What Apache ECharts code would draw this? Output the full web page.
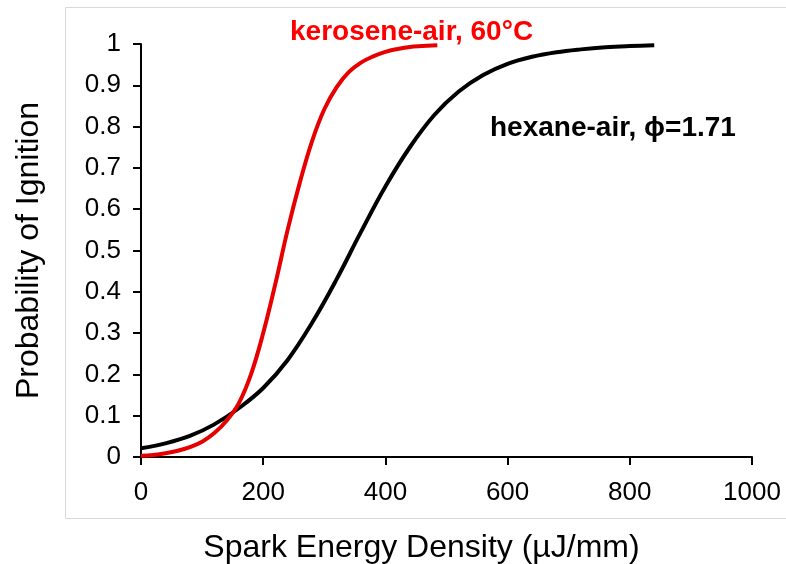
<!DOCTYPE html>
<html>
<head>
<meta charset="utf-8">
<script src="https://cdn.jsdelivr.net/npm/echarts@6/dist/echarts.min.js"></script>
<style>html,body{margin:0;padding:0;background:#fff}#c{width:786px;height:564px}</style>
</head>
<body>
<div id="c"></div>
<script>
var xTicks = [0, 200, 400, 600, 800, 1000];
var yTicks = [0, 0.1, 0.2, 0.3, 0.4, 0.5, 0.6, 0.7, 0.8, 0.9, 1];

var keroseneX = [0, 20, 40, 60, 80, 100, 120, 140, 160, 180, 200, 220, 240, 260, 280, 300, 320, 340, 360, 380, 400, 420, 440, 460, 485];
var keroseneP = [0.003, 0.005, 0.009, 0.015, 0.024, 0.037, 0.058, 0.088, 0.13, 0.2, 0.3, 0.42, 0.55, 0.665, 0.765, 0.842, 0.895, 0.932, 0.955, 0.97, 0.981, 0.988, 0.993, 0.995, 0.997];

var hexaneX = [0, 40, 80, 120, 160, 200, 240, 280, 320, 360, 400, 440, 480, 520, 560, 600, 640, 680, 720, 760, 800, 840];
var hexaneP = [0.021, 0.033, 0.051, 0.079, 0.118, 0.167, 0.235, 0.325, 0.43, 0.545, 0.655, 0.75, 0.828, 0.885, 0.925, 0.952, 0.969, 0.98, 0.987, 0.992, 0.995, 0.997];

var keroseneLabel = 'kerosene-air, 60°C';
var hexaneLabel = 'hexane-air, ϕ=1.71';
var xTitle = 'Spark Energy Density (µJ/mm)';
var yTitle = 'Probability of Ignition';

function pairs(xs, ys) { return xs.map(function (x, i) { return [x, ys[i]]; }); }

var FONT = '"Liberation Sans", Arial, sans-serif';
var chart = echarts.init(document.getElementById('c'), null, {renderer: 'canvas'});
chart.setOption({
  backgroundColor: '#fff',
  animation: false,
  grid: {left: 141, right: 34, top: 44, bottom: 107, containLabel: false, outerBoundsMode: 'none'},
  xAxis: {
    type: 'value', min: 0, max: 1000, interval: 200,
    name: xTitle, nameLocation: 'middle', nameGap: 75,
    nameTextStyle: {fontFamily: FONT, fontSize: 32, color: '#000', padding: [0, 50, 0, 0]},
    axisLine: {show: true, lineStyle: {color: '#000', width: 2}},
    axisTick: {show: true, length: 8, lineStyle: {color: '#000', width: 2}},
    axisLabel: {fontFamily: FONT, fontSize: 26, color: '#000', margin: 23,
      formatter: function (v) { return xTicks.indexOf(v) >= 0 ? String(v) : ''; }},
    splitLine: {show: false}
  },
  yAxis: {
    type: 'value', min: 0, max: 1, interval: 0.1,
    name: yTitle, nameLocation: 'middle', nameGap: 96,
    nameTextStyle: {fontFamily: FONT, fontSize: 32, color: '#000'},
    axisLine: {show: true, lineStyle: {color: '#000', width: 2}},
    axisTick: {show: true, length: 8, lineStyle: {color: '#000', width: 2}},
    axisLabel: {fontFamily: FONT, fontSize: 26, color: '#000', margin: 20,
      formatter: function (v) {
        var r = Math.round(v * 10) / 10;
        return yTicks.indexOf(r) >= 0 ? String(r) : '';
      }},
    splitLine: {show: false}
  },
  graphic: [
    {type: 'rect', silent: true, z: -1, shape: {x: 65.5, y: 7.5, width: 740, height: 511},
      style: {fill: 'none', stroke: '#d9d9d9', lineWidth: 1}},
    {type: 'text', left: 290, top: 18, style: {text: keroseneLabel, fill: '#ff0000',
      font: 'bold 28px ' + FONT}},
    {type: 'text', left: 490, top: 114, style: {text: hexaneLabel, fill: '#000',
      font: 'bold 28px ' + FONT}}
  ],
  series: [
    {type: 'line', name: 'hexane-air', data: pairs(hexaneX, hexaneP), smooth: 0.4,
      showSymbol: false, lineStyle: {color: '#000', width: 4}, z: 2},
    {type: 'line', name: 'kerosene-air', data: pairs(keroseneX, keroseneP), smooth: 0.4,
      showSymbol: false, lineStyle: {color: '#e60000', width: 4}, z: 3}
  ]
});
</script>
</body>
</html>
